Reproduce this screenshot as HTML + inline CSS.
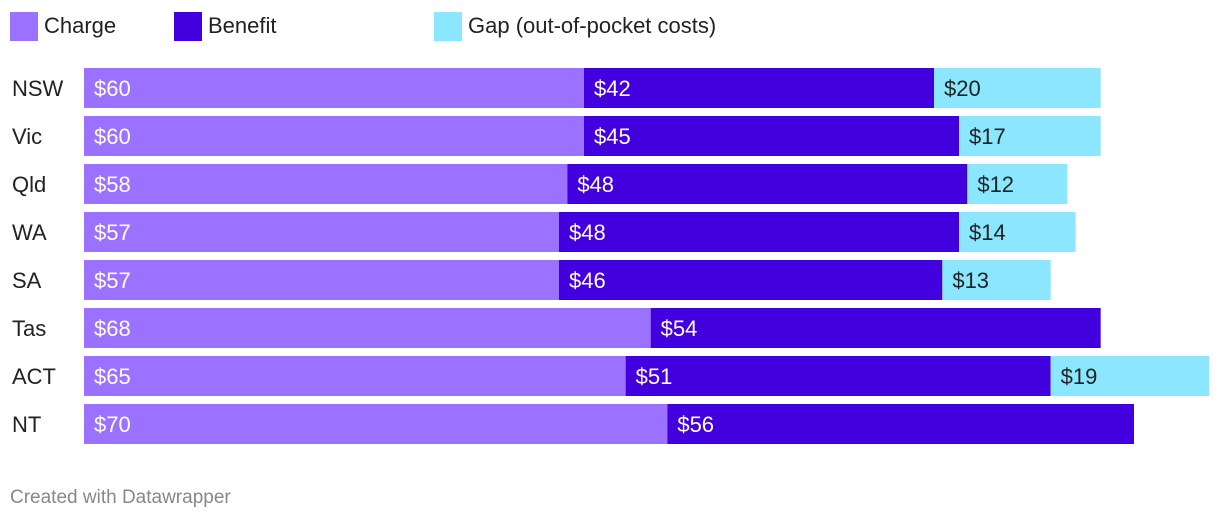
<!DOCTYPE html>
<html><head><meta charset="utf-8"><style>
body{margin:0;background:#fff;width:1220px;height:522px;overflow:hidden;font-family:"Liberation Sans",sans-serif;}
</style></head><body>
<svg width="1220" height="522">
<g id="legend"></g>
<g id="bars"></g>
<text x="10" y="503" font-size="19" fill="#888">Created with Datawrapper</text>
</svg>
<script>
const categories=["NSW","Vic","Qld","WA","SA","Tas","ACT","NT"];
const charge=[60,60,58,57,57,68,65,70];
const benefit=[42,45,48,48,46,54,51,56];
const gap=[20,17,12,14,13,0,19,0];
const seriesNames=["Charge","Benefit","Gap (out-of-pocket costs)"];
const colors=["#9b71ff","#4200de","#8ae7ff"];
const textColors=["#fff","#fff","#222"];
const NS="http://www.w3.org/2000/svg";
const x0=84,scale=500/60,top0=68,pitch=48,bh=40;
const xs=v=>v*scale;
const leg=document.getElementById('legend');
let lx=10;
const legW=[160,254,0];
seriesNames.forEach((n,i)=>{
 const r=document.createElementNS(NS,'rect');
 r.setAttribute('x',lx);r.setAttribute('y',12);r.setAttribute('width',28);r.setAttribute('height',29);r.setAttribute('fill',colors[i]);
 
 
 leg.appendChild(r);
 const t=document.createElementNS(NS,'text');
 t.setAttribute('x',lx+34);t.setAttribute('y',33);t.setAttribute('font-size','22');t.setAttribute('fill','#222');t.textContent=n;
 
 
 leg.appendChild(t);
 lx+= [164,94,0][i] + (i===0?0:0) + (i===0?0:166) ;
});
const g=document.getElementById('bars');
categories.forEach((c,i)=>{
 const y=top0+i*pitch;
 const lab=document.createElementNS(NS,'text');
 lab.setAttribute('x',12);lab.setAttribute('y',y+28);lab.setAttribute('font-size','22');lab.setAttribute('fill','#222');lab.textContent=c;
 
 
 g.appendChild(lab);
 let start=0;
 [charge[i],benefit[i],gap[i]].forEach((v,s)=>{
  if(!v)return;
  const r=document.createElementNS(NS,'rect');
  r.setAttribute('x',x0+xs(start));r.setAttribute('y',y);r.setAttribute('width',xs(v));r.setAttribute('height',bh);r.setAttribute('fill',colors[s]);
  
  
  g.appendChild(r);
  const t=document.createElementNS(NS,'text');
  t.setAttribute('x',x0+xs(start)+10);t.setAttribute('y',y+28);t.setAttribute('font-size','22');t.setAttribute('fill',textColors[s]);t.textContent='$'+v;
  
  
  g.appendChild(t);
  start+=v;
 });
});
</script>
</body></html>
